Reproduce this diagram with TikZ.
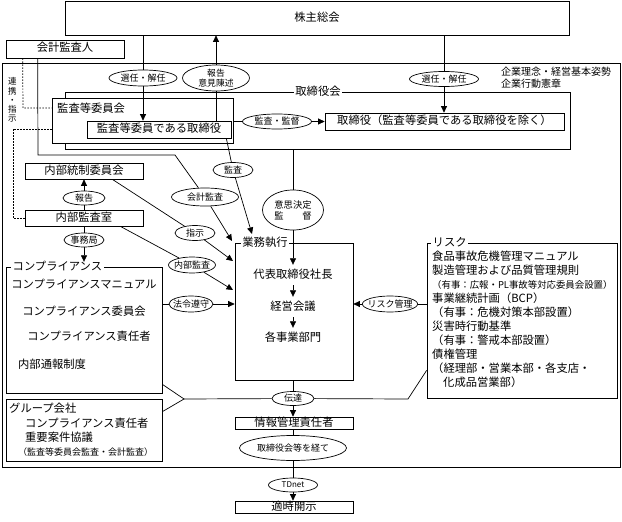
\documentclass[tikz,border=0pt]{standalone}
\usepackage{fontspec}
\setmainfont{Noto Sans CJK JP}
\usetikzlibrary{shapes.geometric,arrows.meta,calc}
\newcommand\mf{\fontsize{11.3pt}{13pt}\selectfont}
\newcommand\sfn{\fontsize{9pt}{10pt}\selectfont}
\newcommand\tfn{\fontsize{10pt}{11.5pt}\selectfont}
\begin{document}
\begin{tikzpicture}[x=1pt,y=-1pt,
  every node/.style={inner sep=0pt},
  ln/.style={line width=0.7pt},
  arr/.style={ln,-{Triangle[length=6.5pt,width=6pt]}},
  dots/.style={line width=0.7pt,dash pattern=on 1.5pt off 1.5pt},
  bx/.style 2 args={draw,ln,fill=white,minimum width=#1,minimum height=#2,font=\mf,text height=0.8em,text depth=0.2em},
  tx/.style={font=\mf,text height=0.8em,text depth=0.2em},
  lbl/.style={font=\mf,fill=white,inner xsep=1.5pt,text height=0.8em,text depth=0.2em},
  el/.style 2 args={draw,ln,fill=white,ellipse,inner xsep=-3pt,inner ysep=-1pt,minimum width=#1,minimum height=#2,font=\sfn,align=center}
]
\useasboundingbox (0,0) rectangle (622,522);

% frames
\draw[ln] (2,63) rectangle (620,467);
\draw[ln] (65,92) rectangle (570,149);
\node[lbl] (torilbl) at (318,92) {取締役会};

% top
\node[bx={504pt}{34pt}] (kabu) at (317,18) {株主総会};
\node[bx={118pt}{18pt}] (kaikei) at (65,49) {会計監査人};
\node[tx,font=\tfn,anchor=west] (rinen1) at (501,72) {企業理念・経営基本姿勢};
\node[tx,font=\tfn,anchor=west] (rinen2) at (501,84) {企業行動憲章};
\node[font=\fontsize{8.5pt}{9.2pt}\selectfont,align=center] (renkei) at (12.5,100) {連\\携\\・\\指\\示};

% board area
\node[bx={181pt}{45pt}] (kansabox) at (142.5,120.5) {};
\node[tx,anchor=west] (kansalbl) at (57,109) {監査等委員会};
\node[bx={144pt}{17pt}] (kansatori) at (159,129.5) {監査等委員である取締役};
\node[bx={239pt}{17pt}] (tori) at (444.5,121.5) {取締役（監査等委員である取締役を除く）};

\node[el={68pt}{16pt}] (sen1) at (143,78) {選任・解任};
\node[el={67pt}{26pt},font=\fontsize{8.8pt}{9.8pt}\selectfont] (hokoku1) at (216,78) {報告\\意見陳述};
\node[el={69pt}{15pt}] (sen2) at (444,79) {選任・解任};
\node[el={69pt}{15pt}] (kanshi) at (277,121.5) {監査・監督};

% execution
\node[bx={118pt}{137pt}] (gyomu) at (294,311.5) {};
\node[lbl] (gyomulbl) at (265,243) {業務執行};
\node[tx,inner ysep=5pt] (daihyo) at (293,275) {代表取締役社長};
\node[tx,inner ysep=5pt] (keiei) at (293,307) {経営会議};
\node[tx,inner ysep=5pt] (kaku) at (293,338) {各事業部門};

\node[el={40pt}{15pt}] (kansa) at (233,170) {監査};
\node[el={67pt}{18pt}] (kaikeikansa) at (205,197) {会計監査};
\node[el={61pt}{40pt},font=\fontsize{9.3pt}{11pt}\selectfont] (ishi) at (293,210) {意思決定\\監\hspace{2em}督};

% left side
\node[bx={118pt}{16pt}] (naibutosei) at (84,171) {内部統制委員会};
\node[el={42pt}{14pt}] (hokoku2) at (84,198) {報告};
\node[bx={118pt}{16pt}] (naibukansa) at (84,218) {内部監査室};
\node[el={40pt}{14pt}] (jimu) at (84,240) {事務局};

\node[bx={156pt}{126pt}] (comp) at (84,330) {};
\node[lbl,anchor=west] (complbl) at (11,267) {コンプライアンス};
\node[tx] (c1) at (84,285) {コンプライアンスマニュアル};
\node[tx] (c2) at (84,312) {コンプライアンス委員会};
\node[tx] (c3) at (89,337) {コンプライアンス責任者};
\node[tx,anchor=west] (c4) at (18,365) {内部通報制度};

\node[bx={156pt}{62pt}] (group) at (84,430) {};
\node[tx,anchor=west] (g1) at (9,409) {グループ会社};
\node[tx,anchor=west] (g2) at (25,424) {コンプライアンス責任者};
\node[tx,anchor=west] (g3) at (25,438) {重要案件協議};
\node[tx,anchor=west,font=\sfn] (g4) at (18,452) {（監査等委員会監査・会計監査）};

\node[el={40pt}{15pt}] (shiji) at (195,233) {指示};
\node[el={47pt}{16pt}] (naibukansa2) at (192,265) {内部監査};
\node[el={44pt}{16pt}] (horei) at (191,304) {法令遵守};

% risk
\node[bx={190pt}{155pt}] (risk) at (522,320.5) {};
\node[lbl,anchor=west] (risklbl) at (431,243) {リスク};
\node[tx,anchor=west] (r1) at (432,257) {食品事故危機管理マニュアル};
\node[tx,anchor=west] (r2) at (432,271) {製造管理および品質管理規則};
\node[tx,anchor=west,font=\fontsize{9.4pt}{11pt}\selectfont] (r3) at (432,285) {（有事：広報・PL事故等対応委員会設置）};
\node[tx,anchor=west] (r4) at (432,299) {事業継続計画（BCP）};
\node[tx,anchor=west] (r5) at (432,313) {（有事：危機対策本部設置）};
\node[tx,anchor=west] (r6) at (432,327) {災害時行動基準};
\node[tx,anchor=west] (r7) at (432,341) {（有事：警戒本部設置）};
\node[tx,anchor=west] (r8) at (432,355) {債権管理};
\node[tx,anchor=west] (r9) at (432,369) {（経理部・営業本部・各支店・};
\node[tx,anchor=west] (r10) at (443,383) {化成品営業部）};
\node[el={55pt}{16pt}] (risukan) at (390,304) {リスク管理};

% bottom
\node[el={42pt}{14pt}] (dentatsu) at (293,398.5) {伝達};
\node[bx={118pt}{12pt}] (joho) at (294,423) {情報管理責任者};
\node[el={107pt}{25pt}] (torikei) at (293,448) {取締役会等を経て};
\node[el={49pt}{14pt},font=\fontsize{8pt}{9pt}\selectfont] (tdnet) at (293,485) {TDnet};
\node[bx={118pt}{12pt}] (tekiji) at (294,507) {適時開示};

% coordinates
\coordinate (kaikeiend) at (232,241);
\coordinate (kansaend) at (252,234);
\coordinate (shijiend) at (233,261);
\coordinate (naibuend) at (233,290);
\coordinate (bA) at ($(comp.south east)+(0,-9)$);
\coordinate (bB) at (184,399);
\coordinate (bC) at ($(group.north east)+(0,13)$);
\coordinate (bD) at (408,399);
\coordinate (bE) at ($(risk.south west)+(0,-28)$);

% connectors
\draw[ln] (kabu.south -| sen1) -- (sen1);
\draw[arr] (sen1) -- (sen1 |- kansatori.north);
\draw[ln] (hokoku1 |- kansatori.north) -- (hokoku1);
\draw[arr] (hokoku1) -- (hokoku1 |- kabu.south);
\draw[ln] (kabu.south -| sen2) -- (sen2);
\draw[arr] (sen2) -- (sen2 |- tori.north);
\draw[ln] (kansabox.east |- kanshi) -- (kanshi);
\draw[arr] (kanshi) -- (tori.west |- kanshi);

\draw[ln] (ishi |- 0,149) -- (ishi);
\draw[arr] (ishi) -- (daihyo);
\draw[arr] (daihyo) -- (keiei);
\draw[arr] (keiei) -- (kaku);

\draw[ln] ($(kansatori.south east)+(-5,0)$) -- (kansa);
\draw[arr] (kansa) -- (kansaend);
\draw[ln] ($(kaikei.south west)+(32,0)$) -- (38,155) -- (175,155) -- (kaikeikansa);
\draw[arr] (kaikeikansa) -- (kaikeiend);
\draw[ln] ($(naibutosei.south east)+(-31,0)$) -- (shiji);
\draw[arr] (shiji) -- (shijiend);
\draw[ln] ($(naibukansa.south east)+(-23,0)$) -- (naibukansa2);
\draw[arr] (naibukansa2) -- (naibuend);
\draw[ln] (naibukansa) -- (hokoku2);
\draw[arr] (hokoku2) -- (naibutosei);
\draw[ln] (naibukansa) -- (jimu);
\draw[arr] (jimu) -- (jimu |- complbl.north);
\draw[ln] (comp.east |- horei) -- (horei);
\draw[arr] (horei) -- (gyomu.west |- horei);
\draw[ln] (risk.west |- risukan) -- (risukan);
\draw[arr] (risukan) -- (gyomu.east |- risukan);

\draw[ln] (gyomu.south -| dentatsu) -- (dentatsu);
\draw[arr] (dentatsu) -- (dentatsu |- joho.north);
\draw[ln] (bA) -- (bB) -- (bC);
\draw[ln] (bB) -- (dentatsu);
\draw[ln] (dentatsu) -- (bD) -- (bE);
\draw[ln] (joho.south -| torikei) -- (torikei);
\draw[ln] (torikei) -- (tdnet);
\draw[arr] (tdnet) -- (tdnet |- tekiji.north);

\draw[dots] ($(kaikei.south west)+(17,0)$) -- (23,108) -- (kansabox.west |- 0,108);
\draw[dots] (kansabox.west |- 0,129) -- (13,129) -- (13,218) -- (naibukansa.west);
\end{tikzpicture}
\end{document}
